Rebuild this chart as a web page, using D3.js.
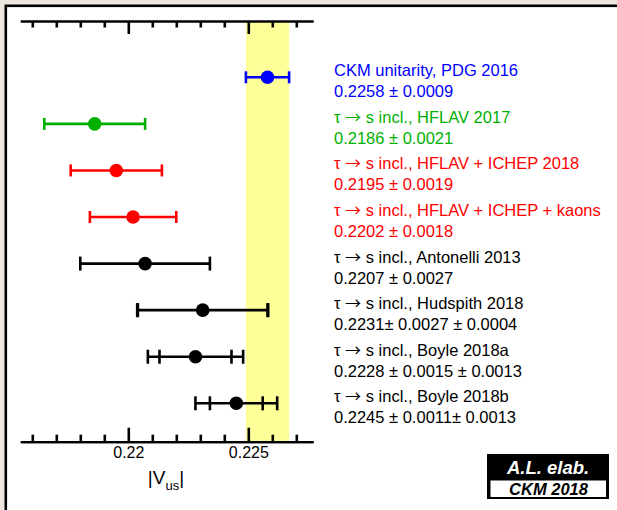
<!DOCTYPE html>
<html>
<head>
<meta charset="utf-8">
<script src="https://cdn.jsdelivr.net/npm/d3@7"></script>
<style>
  body { margin: 0; background: #ece6de; }
  svg { display: block; font-family: "Liberation Sans", Arial, sans-serif; }
</style>
</head>
<body>
<div id="chart"></div>
<script>
// measurements of |Vus|
const titles = [
  "CKM unitarity, PDG 2016",
  "τ → s incl., HFLAV 2017",
  "τ → s incl., HFLAV + ICHEP 2018",
  "τ → s incl., HFLAV + ICHEP + kaons",
  "τ → s incl., Antonelli 2013",
  "τ → s incl., Hudspith 2018",
  "τ → s incl., Boyle 2018a",
  "τ → s incl., Boyle 2018b"
];
const valueTexts = [
  "0.2258 ± 0.0009",
  "0.2186 ± 0.0021",
  "0.2195 ± 0.0019",
  "0.2202 ± 0.0018",
  "0.2207 ± 0.0027",
  "0.2231± 0.0027 ± 0.0004",
  "0.2228 ± 0.0015 ± 0.0013",
  "0.2245 ± 0.0011± 0.0013"
];
const values = [0.2258, 0.2186, 0.2195, 0.2202, 0.2207, 0.2231, 0.2228, 0.2245];
const statErr = [0.0009, 0.0021, 0.0019, 0.0018, 0.0027, 0.0027, 0.0015, 0.0011];
const systErr = [0, 0, 0, 0, 0, 0.0004, 0.0013, 0.0013];
const colors = ["#0000ff", "#00b000", "#ff0000", "#ff0000", "#000", "#000", "#000", "#000"];

const majorTicks = [0.22, 0.225];
const minorTicks = d3.range(216, 228).map(d => d / 1000).filter(d => !majorTicks.some(m => Math.abs(m - d) < 1e-9));
const band = [0.2249, 0.2267];   // PDG unitarity 1 sigma

const width = 617, height = 510;
const axisTopY = 21, axisBottomY = 441.7;

const svg = d3.select("#chart")
    .append("svg")
        .attr("width", width)
        .attr("height", height);

// white panel with frame
svg.append("rect")
    .attr("x", 5.8).attr("y", 5.8)
    .attr("width", 640).attr("height", 540)
    .attr("fill", "#fff")
    .attr("stroke", "#000")
    .attr("stroke-width", 2.6);

const x = d3.scaleLinear()
    .domain([0.2155, 0.2277])
    .range([20.3, 313.1]);

const y = d3.scalePoint()
    .domain(d3.range(titles.length))
    .range([77.3, 403.3]);

// yellow band
svg.append("rect")
    .attr("x", x(band[0]))
    .attr("y", axisTopY)
    .attr("width", x(band[1]) - x(band[0]))
    .attr("height", axisBottomY - axisTopY)
    .attr("fill", "#ffff99");

// axes
function styleAxis(g) {
    g.select(".domain").attr("stroke-width", 2.2);
    g.selectAll(".tick line").attr("stroke-width", 2.6);
}

svg.append("g")
    .attr("transform", `translate(0,${axisTopY})`)
    .call(d3.axisTop(x).tickValues(minorTicks).tickSize(-6.5).tickSizeOuter(0).tickFormat(""))
    .call(styleAxis);
svg.append("g")
    .attr("transform", `translate(0,${axisTopY})`)
    .call(d3.axisTop(x).tickValues(majorTicks).tickSize(-13).tickSizeOuter(0).tickFormat(""))
    .call(styleAxis);

svg.append("g")
    .attr("transform", `translate(0,${axisBottomY})`)
    .call(d3.axisBottom(x).tickValues(minorTicks).tickSize(-7).tickSizeOuter(0).tickFormat(""))
    .call(styleAxis);
const xAxisB = svg.append("g")
    .attr("transform", `translate(0,${axisBottomY})`)
    .call(d3.axisBottom(x).tickValues(majorTicks).tickSize(-14).tickSizeOuter(0).tickPadding(5).tickFormat(d3.format("")))
    .call(styleAxis);
xAxisB.selectAll("text")
    .attr("font-family", "Liberation Sans, Arial, sans-serif")
    .attr("font-size", 16)
    .attr("fill", "#000");

// axis title |Vus|
const xt = svg.append("text")
    .attr("x", 166)
    .attr("y", 484)
    .attr("text-anchor", "middle")
    .attr("font-size", 19);
xt.append("tspan").text("|V");
xt.append("tspan").attr("font-size", 13).attr("dy", 6).text("us");
xt.append("tspan").attr("dy", -6).text("|");

// error bars
const rows = svg.append("g")
    .selectAll("g")
    .data(values)
    .enter()
    .append("g")
        .attr("transform", (d, i) => `translate(0,${y(i)})`);

rows.each(function(d, i) {
    const g = d3.select(this);
    const c = colors[i];
    const tot = Math.sqrt(statErr[i] ** 2 + systErr[i] ** 2);
    const cap = i < 4 ? 6 : 7;
    g.append("line")
        .attr("x1", x(d - tot)).attr("x2", x(d + tot))
        .attr("stroke", c).attr("stroke-width", 2.6);
    const caps = [d - statErr[i], d + statErr[i]];
    if (systErr[i] > 0) caps.push(d - tot, d + tot);
    caps.forEach(v => {
        g.append("line")
            .attr("x1", x(v)).attr("x2", x(v))
            .attr("y1", -cap).attr("y2", cap)
            .attr("stroke", c).attr("stroke-width", 2.6);
    });
    g.append("circle")
        .attr("cx", x(d))
        .attr("r", 6.8)
        .attr("fill", c);
});

// labels
const lab = svg.append("g")
    .selectAll("g")
    .data(titles)
    .enter()
    .append("g")
        .attr("fill", (d, i) => colors[i])
        .attr("font-size", 16.5);
lab.append("text")
    .attr("x", 334)
    .attr("y", (d, i) => y(i) - 1)
    .each(function(d) {
        const t = d3.select(this);
        const parts = d.split("→");
        t.append("tspan").text(parts[0]);
        if (parts.length > 1) {
            t.append("tspan").attr("font-family", "Noto Sans CJK SC").attr("font-size", 16).text("→");
            t.append("tspan").text(parts[1]);
        }
    });
lab.append("text")
    .attr("x", 334)
    .attr("y", (d, i) => y(i) + 20)
    .text((d, i) => valueTexts[i]);

// logo
const logo = svg.append("g");
logo.append("rect")
    .attr("x", 487).attr("y", 454)
    .attr("width", 122).attr("height", 45)
    .attr("fill", "#000");
logo.append("rect")
    .attr("x", 490.5).attr("y", 480.5)
    .attr("width", 115.5).attr("height", 16.5)
    .attr("fill", "#fff");
logo.append("text")
    .attr("x", 548).attr("y", 473.5)
    .attr("text-anchor", "middle")
    .attr("fill", "#fff")
    .attr("font-size", 18.5)
    .attr("font-weight", "bold")
    .attr("font-style", "italic")
    .text("A.L. elab.");
logo.append("text")
    .attr("x", 548.5).attr("y", 494.5)
    .attr("text-anchor", "middle")
    .attr("fill", "#000")
    .attr("font-size", 16.5)
    .attr("font-weight", "bold")
    .attr("font-style", "italic")
    .text("CKM 2018");
</script>
</body>
</html>
